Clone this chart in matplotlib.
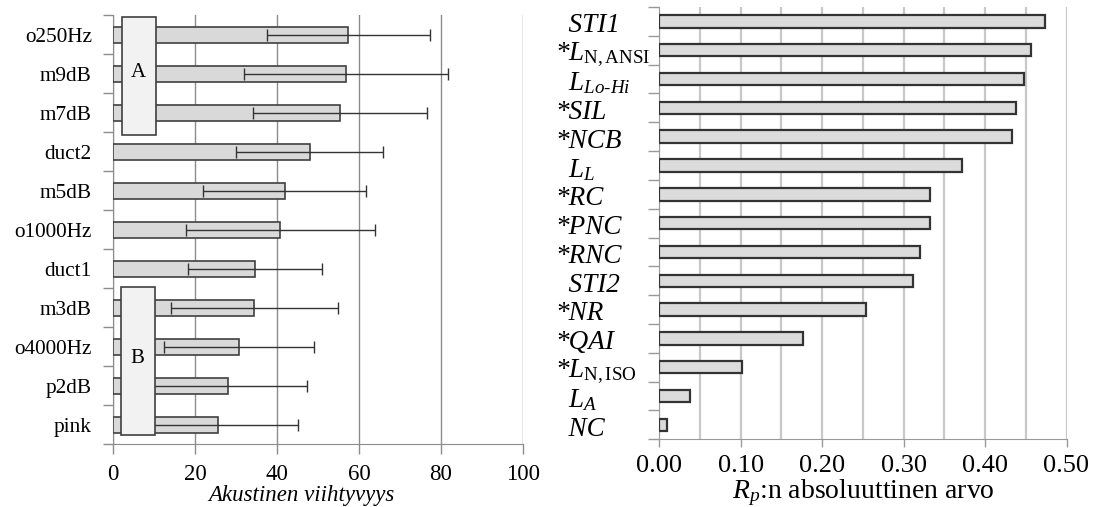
import numpy as np
import matplotlib
matplotlib.use("Agg")
import matplotlib.pyplot as plt
from matplotlib.patches import Rectangle
from matplotlib.transforms import blended_transform_factory

# vasen kuva: akustinen viihtyvyys (keskiarvo +- hajonta)
sounds = ['o250Hz', 'm9dB', 'm7dB', 'duct2', 'm5dB', 'o1000Hz',
          'duct1', 'm3dB', 'o4000Hz', 'p2dB', 'pink']
comfort_mean = [57.3, 56.8, 55.3, 47.9, 41.8, 40.8, 34.6, 34.4, 30.7, 27.9, 25.5]
comfort_sd = [19.9, 25.0, 21.2, 18.0, 19.8, 23.0, 16.4, 20.4, 18.4, 19.4, 19.5]
comfort_ticks = [0, 20, 40, 60, 80, 100]

# oikea kuva: korrelaatioiden itseisarvot
indices = ['  STI1', r'*$L_{\mathrm{N,ANSI}}$', r'  $L_{\mathit{Lo}\text{-}\mathit{Hi}}$',
           '*SIL', '*NCB', r'  $L_{L}$', '*RC', '*PNC', '*RNC', '  STI2', '*NR',
           '*QAI', r'*$L_{\mathrm{N,ISO}}$', r'  $L_{A}$', '  NC']
rp_abs = [0.474, 0.456, 0.448, 0.438, 0.433, 0.372, 0.332, 0.333, 0.320, 0.311,
          0.254, 0.177, 0.102, 0.038, 0.010]
rp_ticks = [0.0, 0.1, 0.2, 0.3, 0.4, 0.5]

plt.rcParams['font.family'] = 'serif'
plt.rcParams['font.serif'] = ['Liberation Serif']
plt.rcParams['mathtext.fontset'] = 'custom'
plt.rcParams['mathtext.rm'] = 'Liberation Serif'
plt.rcParams['mathtext.it'] = 'Liberation Serif:italic'
plt.rcParams['mathtext.bf'] = 'Liberation Serif:bold'

W, H = 1094, 507
fig = plt.figure(figsize=(W / 100, H / 100), dpi=100)
ax1 = fig.add_axes([113.3 / W, 1 - 444.3 / H, (523 - 113.3) / W, (444.3 - 15) / H])
ax2 = fig.add_axes([659.3 / W, 1 - 439.3 / H, (1066.5 - 659.3) / W, (439.3 - 7) / H])

# --- vasen ---
y1 = np.arange(len(sounds))
ax1.barh(y1, comfort_mean, height=0.41, color='#d9d9d9', edgecolor='#404040',
         linewidth=1.2, zorder=3)
ax1.errorbar(comfort_mean, y1, xerr=comfort_sd, fmt='none', ecolor='#333333',
             elinewidth=1, capsize=4, capthick=1, zorder=4)

# ryhmälaatikot A ja B
ax1.add_patch(Rectangle((2.1, -0.456), 8.25, 3.03, facecolor='#f2f2f2',
                        edgecolor='#404040', linewidth=1.2, zorder=5))
ax1.text(6.2, 0.97, 'A', ha='center', va='center', fontsize=15, zorder=6)
ax1.add_patch(Rectangle((1.76, 6.47), 8.34, 3.79, facecolor='#f2f2f2',
                        edgecolor='#404040', linewidth=1.2, zorder=5))
ax1.text(5.9, 8.31, 'B', ha='center', va='center', fontsize=15, zorder=6)

ax1.set_xlim(0, 100)
ax1.set_ylim(len(sounds) - 0.5, -0.5)
ax1.set_xticks(comfort_ticks)
ax1.set_xticklabels([str(t) for t in comfort_ticks], fontsize=16.5)
ax1.set_yticks(y1)
ax1.set_yticklabels(sounds, fontsize=15.3)
ax1.set_yticks(np.arange(-0.5, len(sounds), 1), minor=True)
ax1.tick_params(axis='y', which='major', length=0, pad=15.5)
ax1.tick_params(axis='y', which='minor', length=7, color='#8c8c8c', width=1)
ax1.tick_params(axis='x', length=7, color='#8c8c8c', width=1, pad=7)
ax1.xaxis.grid(True, color='#8c8c8c', linewidth=1)
ax1.set_axisbelow(True)
for s in ['top', 'right']:
    ax1.spines[s].set_visible(False)
for s in ['left', 'bottom']:
    ax1.spines[s].set_color('#8c8c8c')
ax1.set_xlabel('Akustinen viihtyvyys', fontstyle='italic', fontsize=16.5)
ax1.xaxis.set_label_coords(0.458, -0.095)

# --- oikea ---
y2 = np.arange(len(indices))
ax2.barh(y2, rp_abs, height=0.43, color='#dcdcdc', edgecolor='#333333',
         linewidth=1.6, zorder=3)
ax2.set_xlim(0, 0.5)
ax2.set_ylim(len(indices) - 0.5, -0.5)
ax2.set_xticks(rp_ticks)
ax2.set_xticklabels(['%.2f' % t for t in rp_ticks], fontsize=19)
ax2.set_xticks(np.arange(0.05, 0.5, 0.1), minor=True)
ax2.set_yticks(np.arange(-0.5, len(indices), 1))
ax2.set_yticklabels([])
ax2.tick_params(axis='y', length=8, color='#999999', width=1)
ax2.tick_params(axis='x', which='major', length=6, color='#999999', width=1, pad=5)
ax2.tick_params(axis='x', which='minor', length=0)
ax2.xaxis.grid(True, which='both', color='#c8c8c8', linewidth=1.6)
ax2.set_axisbelow(True)
for s in ['top', 'right']:
    ax2.spines[s].set_visible(False)
for s in ['left', 'bottom']:
    ax2.spines[s].set_color('#999999')

trans = blended_transform_factory(ax2.transAxes, ax2.transData)
for i, lab in enumerate(indices):
    ax2.text(-0.255, i + 0.15, lab, transform=trans, ha='left', va='center',
             fontsize=19.5, fontstyle='italic')

ax2.set_xlabel('$R_p$:n absoluuttinen arvo', fontsize=20)
ax2.xaxis.set_label_coords(0.5, -0.088)

fig.savefig('out.png', dpi=100)
